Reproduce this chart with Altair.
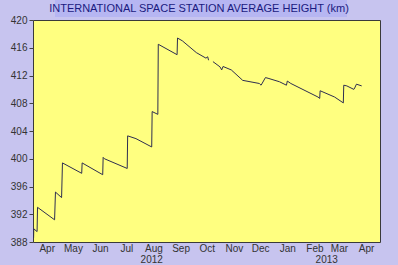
import altair as alt
import pandas as pd

dates = [
    "2012-03-31T00:00", "2012-03-31T06:00", "2012-04-04T00:00", "2012-04-04T12:00",
    "2012-04-24T00:00", "2012-04-25T00:00", "2012-05-02T00:00", "2012-05-03T00:00",
    "2012-05-25T00:00", "2012-05-25T12:00", "2012-06-18T00:00", "2012-06-18T12:00",
    "2012-06-20T00:00", "2012-07-16T00:00", "2012-07-16T12:00", "2012-07-26T00:00",
    "2012-08-13T00:00", "2012-08-13T12:00", "2012-08-20T00:00", "2012-08-20T12:00",
    "2012-09-11T00:00", "2012-09-11T12:00", "2012-09-17T00:00", "2012-10-03T00:00",
    "2012-10-14T00:00", "2012-10-16T00:00", "2012-10-17T00:00", "2012-10-19T00:00",
    "2012-10-22T00:00", "2012-10-30T00:00", "2012-11-01T00:00", "2012-11-02T12:00",
    "2012-11-12T00:00", "2012-11-25T00:00", "2012-12-14T00:00", "2012-12-16T00:00",
    "2012-12-21T00:00", "2012-12-24T00:00", "2013-01-06T00:00", "2013-01-14T00:00",
    "2013-01-15T00:00", "2013-01-19T00:00", "2013-02-19T00:00", "2013-02-21T00:00",
    "2013-02-21T12:00", "2013-03-10T00:00", "2013-03-20T00:00", "2013-03-20T12:00",
    "2013-03-24T00:00", "2013-04-01T00:00", "2013-04-02T00:00", "2013-04-04T00:00",
    "2013-04-10T00:00",
]
heights = [
    388.6, 389.9, 389.5, 393.0,
    391.2, 395.2, 394.4, 399.4,
    397.9, 399.4, 397.7, 400.2,
    400.0, 398.6, 403.3, 402.9,
    401.7, 406.8, 406.4, 416.5,
    415.0, 417.4, 417.0, 415.3,
    414.5, 414.7, 414.2, None,
    414.0, 413.25, 412.8, 413.3,
    412.8, 411.3, 410.85, 410.6,
    411.7, 411.6, 411.1, 410.6,
    411.2, 410.85, 408.9, 408.7,
    409.8, 408.9, 408.05, 410.6,
    410.5, 410.0, 410.2, 410.75,
    410.5,
]

month_ticks = [
    "2012-04-15", "2012-05-15", "2012-06-15", "2012-07-15", "2012-08-15",
    "2012-09-15", "2012-10-15", "2012-11-15", "2012-12-15", "2013-01-15",
    "2013-02-15", "2013-03-15", "2013-04-15",
]
year_label_dates = ["2012-08-13", "2013-03-01"]
year_labels = ["2012", "2013"]
y_ticks = [388, 392, 396, 400, 404, 408, 412, 416, 420]
title_text = "INTERNATIONAL SPACE STATION AVERAGE HEIGHT (km)"

df = pd.DataFrame({"date": pd.to_datetime(dates), "height": heights})
years = pd.DataFrame({"date": pd.to_datetime(year_label_dates), "label": year_labels})

W, H = 347, 222
xdom = [alt.DateTime(year=2012, month=3, date=30, hours=8),
        alt.DateTime(year=2013, month=4, date=30, hours=22)]
xscale = alt.Scale(domain=xdom)
tick_vals = [alt.DateTime(year=int(d[:4]), month=int(d[5:7]), date=int(d[8:10])) for d in month_ticks]

label_font = "Liberation Sans"
axis_color = "#333333"

line = alt.Chart(df).mark_line(color="#2e2e50", strokeWidth=1, clip=True).encode(
    x=alt.X("date:T", scale=xscale, title=None,
            axis=alt.Axis(values=tick_vals, format="%b", labelFont=label_font,
                          labelFontSize=10, labelColor=axis_color, ticks=False,
                          domain=False, grid=False, labelPadding=1,
                          labelFlush=False, labelOverlap=False, labelSeparation=0)),
    y=alt.Y("height:Q", scale=alt.Scale(domain=[388, 420], nice=False, zero=False), title=None,
            axis=alt.Axis(values=y_ticks, labelFont=label_font, labelFontSize=10,
                          labelColor=axis_color, tickColor="#444444", tickSize=4,
                          domain=False, grid=False, labelPadding=2)),
)

yr = alt.Chart(years).mark_text(font=label_font, fontSize=10, color=axis_color,
                                baseline="middle").encode(
    x=alt.X("date:T", scale=xscale, axis=None),
    y=alt.value(H + 18),
    text="label:N",
)

band = alt.Chart(pd.DataFrame({"t": [title_text]})).mark_rect(
    color="#b6b6f2", clip=False).encode(
    x=alt.value(22), x2=alt.value(314), y=alt.value(-20), y2=alt.value(-3),
)
ttl = alt.Chart(pd.DataFrame({"t": [title_text]})).mark_text(
    font=label_font, fontSize=11, color="#1a1a80", align="center",
    baseline="middle", clip=False).encode(
    x=alt.value(166), y=alt.value(-11), text="t:N",
)

chart = alt.layer(band, ttl, line, yr).resolve_axis(x="independent").properties(
    width=W, height=H,
    autosize=alt.AutoSizeParams(type="none"),
    padding={"left": 33, "top": 20, "right": 18, "bottom": 23},
    background="#c7c4ef",
).configure_view(stroke="#3a3a3a", strokeWidth=1, fill="#ffff80")

chart.save("out.html", embed_options={"renderer": "svg", "actions": False})
